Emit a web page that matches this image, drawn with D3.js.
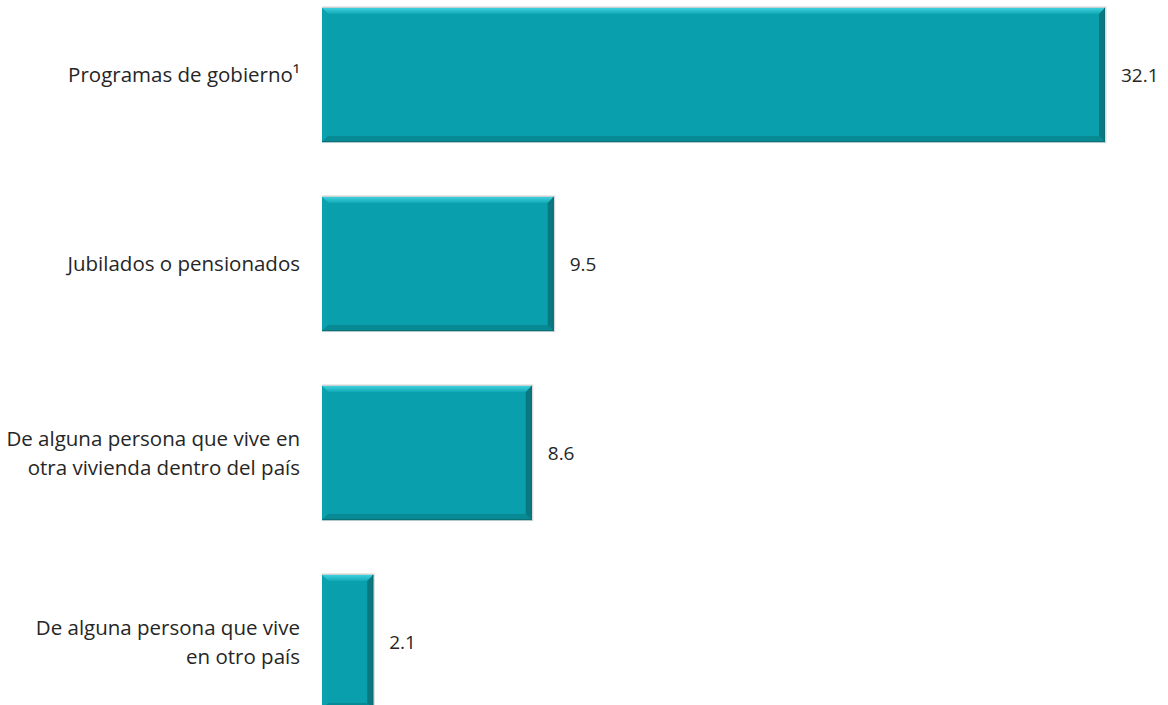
<!DOCTYPE html>
<html><head><meta charset="utf-8">
<script src="https://cdn.jsdelivr.net/npm/d3@7"></script>
<style>html,body{margin:0;padding:0;background:#fff;overflow:hidden}</style>
</head><body>
<svg id="c" width="1168" height="705"></svg>
<script>
const categories = [
  ["Programas de gobierno\u00b9"],
  ["Jubilados o pensionados"],
  ["De alguna persona que vive en", "otra vivienda dentro del país"],
  ["De alguna persona que vive", "en otro país"]
];
const values = [32.1, 9.5, 8.6, 2.1];
const valueLabels = ["32.1", "9.5", "8.6", "2.1"];

const svg = d3.select("#c");
const ids = categories.map((c, i) => "c" + i);
const x = d3.scaleLinear().domain([0, 32.1]).range([322, 1105]);
const y = d3.scaleBand().domain(ids).range([-19.5, 736.5]).paddingInner(0.29).paddingOuter(0.145);

const font = "'Open Sans', 'Noto Sans', sans-serif";
const bev = 6;

const defs = svg.append("defs");
const gr = defs.append("linearGradient").attr("id", "topg").attr("x1", 0).attr("y1", 0).attr("x2", 0).attr("y2", 1);
gr.append("stop").attr("offset", "0%").attr("stop-color", "#3fd0dc");
gr.append("stop").attr("offset", "100%").attr("stop-color", "#12aab6");

const g = svg.append("g");
ids.forEach((id, i) => {
  const x0 = x(0), x1 = x(values[i]);
  const y0 = y(id), y1 = y(id) + y.bandwidth();
  const b = Math.min(bev, (x1 - x0) / 3);
  const grp = g.append("g");
  grp.append("rect").attr("x", x0).attr("y", y0 - 1.5).attr("width", x1 - x0 + 1.5).attr("height", y1 - y0 + 2.5)
    .attr("fill", "#cfcfcf").attr("opacity", 0.8);
  grp.append("rect").attr("x", x0).attr("y", y0).attr("width", x1 - x0).attr("height", y1 - y0).attr("fill", "#099fac");
  grp.append("polygon").attr("points", [[x0, y0], [x1, y0], [x1 - b, y0 + b], [x0 + b, y0 + b]].join(" ")).attr("fill", "url(#topg)");
  grp.append("polygon").attr("points", [[x0, y0], [x0 + b, y0 + b], [x0 + b, y1 - b], [x0, y1]].join(" ")).attr("fill", "#0aa2ae");
  grp.append("polygon").attr("points", [[x0, y1], [x0 + b, y1 - b], [x1 - b, y1 - b], [x1, y1]].join(" ")).attr("fill", "#088a94");
  grp.append("polygon").attr("points", [[x1, y0], [x1, y1], [x1 - b, y1 - b], [x1 - b, y0 + b]].join(" ")).attr("fill", "#0a7880");
  grp.append("line").attr("x1", x0).attr("x2", x1).attr("y1", y1 - 0.5).attr("y2", y1 - 0.5).attr("stroke", "#0a6f76").attr("stroke-width", 1);
  grp.append("line").attr("x1", x1 - 0.5).attr("x2", x1 - 0.5).attr("y1", y0).attr("y2", y1).attr("stroke", "#0a6f76").attr("stroke-width", 1);

  g.append("text").attr("x", x1 + 16).attr("y", (y0 + y1) / 2 + 7)
    .attr("font-family", font).attr("font-size", 19).attr("fill", "#262626").text(valueLabels[i]);

  const lines = categories[i];
  const lh = 29;
  const cy = (y0 + y1) / 2;
  const t = g.append("text").attr("text-anchor", "end").attr("font-family", font).attr("font-size", 20.5).attr("fill", "#262626");
  lines.forEach((ln, k) => {
    t.append("tspan").attr("x", 300).attr("y", cy + 7 + (k - (lines.length - 1) / 2) * lh).text(ln);
  });
});
</script>
</body></html>
